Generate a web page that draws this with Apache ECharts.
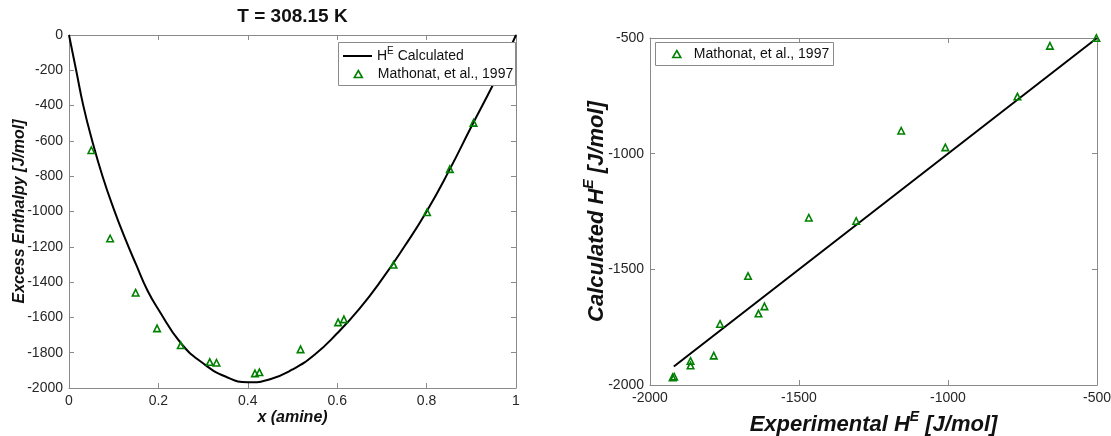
<!DOCTYPE html>
<html>
<head>
<meta charset="utf-8">
<script src="https://cdn.jsdelivr.net/npm/echarts@6/dist/echarts.min.js"></script>
<style>
html,body{margin:0;padding:0;background:#fff;}
#chart{width:1111px;height:436px;}
</style>
</head>
<body>
<div id="chart"></div>
<script>
// ---- data ----
const titleText = 'T = 308.15 K';
// left panel: calculated excess enthalpy curve
const curveX = [0, 0.016, 0.032, 0.052, 0.075, 0.1, 0.125, 0.15, 0.175, 0.2, 0.25, 0.3, 0.35, 0.4, 0.45, 0.5, 0.55, 0.6, 0.65, 0.7, 0.75, 0.8, 0.85, 0.9, 0.95, 0.975, 1.0];
const curveY = [0, -200, -400, -600, -800, -985, -1150, -1300, -1445, -1555, -1745, -1860, -1935, -1968, -1950, -1895, -1810, -1690, -1550, -1385, -1200, -1000, -770, -520, -275, -140, 0];
// left panel: experimental points (Mathonat, et al., 1997)
const expX = [0.050, 0.092, 0.149, 0.197, 0.250, 0.315, 0.330, 0.416, 0.426, 0.518, 0.602, 0.615, 0.726, 0.801, 0.852, 0.905];
const expY = [-653, -1153, -1460, -1662, -1758, -1853, -1857, -1917, -1911, -1781, -1628, -1611, -1302, -1004, -760, -498];
// right panel: parity plot
const parityExp  = [-502, -658, -767, -1009, -1157, -1308, -1467, -1616, -1636, -1671, -1765, -1786, -1864, -1864, -1919, -1924];
const parityCalc = [-500, -534, -753, -973, -901, -1291, -1277, -1660, -1691, -1529, -1736, -1873, -1896, -1916, -1964, -1967];
const diagX = [-1920, -500];
const diagY = [-1920, -500];
const seriesNames = ['HE Calculated', 'Mathonat, et al., 1997'];

// ---- chart ----
const FONT = "'Liberation Sans', Arial, Helvetica, sans-serif";
const GREEN = '#008000';
const AXIS_GRAY = '#8a8a8a';
const LABEL = { color: '#262626', fontSize: 14, fontFamily: FONT, formatter: v => String(v) };
// icons drawn in a box of the full legend item size so they stay centred
const TRI_ICON_29 = 'path://M0,0 M29,0 M14.5,0 L18.5,7 L10.5,7 Z';
const TRI_ICON_24 = 'path://M0,0 M24,0 M12,0 L16,7 L8,7 Z';
const LINE_ICON = 'path://M0,0 L29,0 L29,2 L0,2 Z';

function axis(base) {
  return Object.assign({
    type: 'value',
    nameMoveOverlap: false,
    axisLine: { show: true, onZero: false, lineStyle: { color: AXIS_GRAY, width: 1 } },
    axisTick: { show: true, inside: true, length: 5, lineStyle: { color: AXIS_GRAY } },
    splitLine: { show: false },
    axisLabel: Object.assign({ margin: 6 }, LABEL)
  }, base);
}
function mirror(base) {
  const a = axis(base);
  a.axisLabel = { show: false };
  return a;
}

const nameRich22 = {
  n: { fontSize: 22, fontWeight: 'bold', fontStyle: 'italic', fontFamily: FONT, color: '#111', lineHeight: 30 },
  s: { fontSize: 14, fontWeight: 'bold', fontStyle: 'italic', fontFamily: FONT, color: '#111', lineHeight: 12, verticalAlign: 'top' }
};
const nameStyle16 = { fontSize: 16, fontWeight: 'bold', fontStyle: 'italic', fontFamily: FONT, color: '#111' };
const triStyle = { color: 'rgba(255,255,255,0)', borderColor: GREEN, borderWidth: 1.6, opacity: 1 };

const chart = echarts.init(document.getElementById('chart'), null, { renderer: 'canvas' });
const option = {
  animation: false,
  backgroundColor: '#fff',
  grid: [
    { left: 69, top: 35, width: 447, height: 353, outerBoundsMode: 'none', containLabel: false },
    { left: 650, top: 38, width: 447, height: 347, outerBoundsMode: 'none', containLabel: false }
  ],
  xAxis: [
    axis({ gridIndex: 0, position: 'bottom', min: 0, max: 1, interval: 0.2,
      name: 'x (amine)', nameLocation: 'middle', nameGap: 22, nameTextStyle: nameStyle16 }),
    mirror({ gridIndex: 0, position: 'top', min: 0, max: 1, interval: 0.2 }),
    axis({ gridIndex: 1, position: 'bottom', min: -2000, max: -500, interval: 500,
      name: '{n|Experimental H}{s|E}{n| [J/mol]}', nameLocation: 'middle', nameGap: 25,
      nameTextStyle: { rich: nameRich22 } }),
    mirror({ gridIndex: 1, position: 'top', min: -2000, max: -500, interval: 500 })
  ],
  yAxis: [
    axis({ gridIndex: 0, position: 'left', min: -2000, max: 0, interval: 200,
      name: 'Excess Enthalpy [J/mol]', nameLocation: 'middle', nameGap: 41, nameTextStyle: nameStyle16 }),
    mirror({ gridIndex: 0, position: 'right', min: -2000, max: 0, interval: 200 }),
    axis({ gridIndex: 1, position: 'left', min: -2000, max: -500, interval: 500,
      name: '{n|Calculated H}{s|E}{n| [J/mol]}', nameLocation: 'middle', nameGap: 38,
      nameTextStyle: { rich: nameRich22 } }),
    mirror({ gridIndex: 1, position: 'right', min: -2000, max: -500, interval: 500 })
  ],
  legend: [
    {
      data: [{ name: seriesNames[0], icon: LINE_ICON, itemStyle: { color: '#000', borderWidth: 0 } }],
      selectedMode: false, orient: 'vertical', symbolKeepAspect: true,
      left: 343, top: 46, padding: 0, itemWidth: 29, itemHeight: 14,
      formatter: () => '{n|H}{s|E}{n| Calculated}',
      textStyle: { rich: {
        n: { fontSize: 14, fontFamily: FONT, color: '#111', lineHeight: 20 },
        s: { fontSize: 10, fontFamily: FONT, color: '#111', lineHeight: 9, verticalAlign: 'top' }
      } }
    },
    {
      data: [{ name: seriesNames[1], icon: TRI_ICON_29, itemStyle: triStyle }],
      selectedMode: false, orient: 'vertical', symbolKeepAspect: true,
      left: 343, top: 66, padding: 0, itemWidth: 29, itemHeight: 7,
      textStyle: { fontSize: 14, fontFamily: FONT, color: '#111', lineHeight: 16 }
    },
    {
      data: [{ name: seriesNames[1], icon: TRI_ICON_24, itemStyle: triStyle }],
      selectedMode: false, orient: 'vertical', symbolKeepAspect: true,
      left: 664, top: 46, padding: 0, itemWidth: 24, itemHeight: 7,
      textStyle: { fontSize: 14, fontFamily: FONT, color: '#111', lineHeight: 16 }
    }
  ],
  graphic: [
    { type: 'text', x: 292.5, y: 17, z: 10,
      style: { text: titleText, textAlign: 'center', textVerticalAlign: 'middle',
        font: "bold 19px 'Liberation Sans', Arial, sans-serif", fill: '#111' } },
    { type: 'rect', shape: { x: 338.5, y: 42.5, width: 177, height: 43 }, z: 2,
      style: { fill: '#fff', stroke: AXIS_GRAY, lineWidth: 1 } },
    { type: 'rect', shape: { x: 655.5, y: 42.5, width: 178, height: 23 }, z: 2,
      style: { fill: '#fff', stroke: AXIS_GRAY, lineWidth: 1 } }
  ],
  series: [
    {
      name: seriesNames[0], type: 'line', xAxisIndex: 0, yAxisIndex: 0,
      data: curveX.map((x, i) => [x, curveY[i]]),
      smooth: 0.5, symbol: 'none', z: 1,
      lineStyle: { color: '#000', width: 2 }, itemStyle: { color: '#000' }
    },
    {
      name: seriesNames[1], type: 'scatter', xAxisIndex: 0, yAxisIndex: 0,
      data: expX.map((x, i) => [x, expY[i]]),
      symbol: 'triangle', symbolSize: 6.5, z: 3,
      itemStyle: triStyle
    },
    {
      name: 'parity', type: 'line', xAxisIndex: 2, yAxisIndex: 2,
      data: diagX.map((x, i) => [x, diagY[i]]),
      symbol: 'none', z: 1,
      lineStyle: { color: '#000', width: 2 }
    },
    {
      name: seriesNames[1], type: 'scatter', xAxisIndex: 2, yAxisIndex: 2,
      data: parityExp.map((x, i) => [x, parityCalc[i]]),
      symbol: 'triangle', symbolSize: 6.5, z: 3,
      itemStyle: triStyle
    }
  ]
};
chart.setOption(option);
</script>
</body>
</html>
